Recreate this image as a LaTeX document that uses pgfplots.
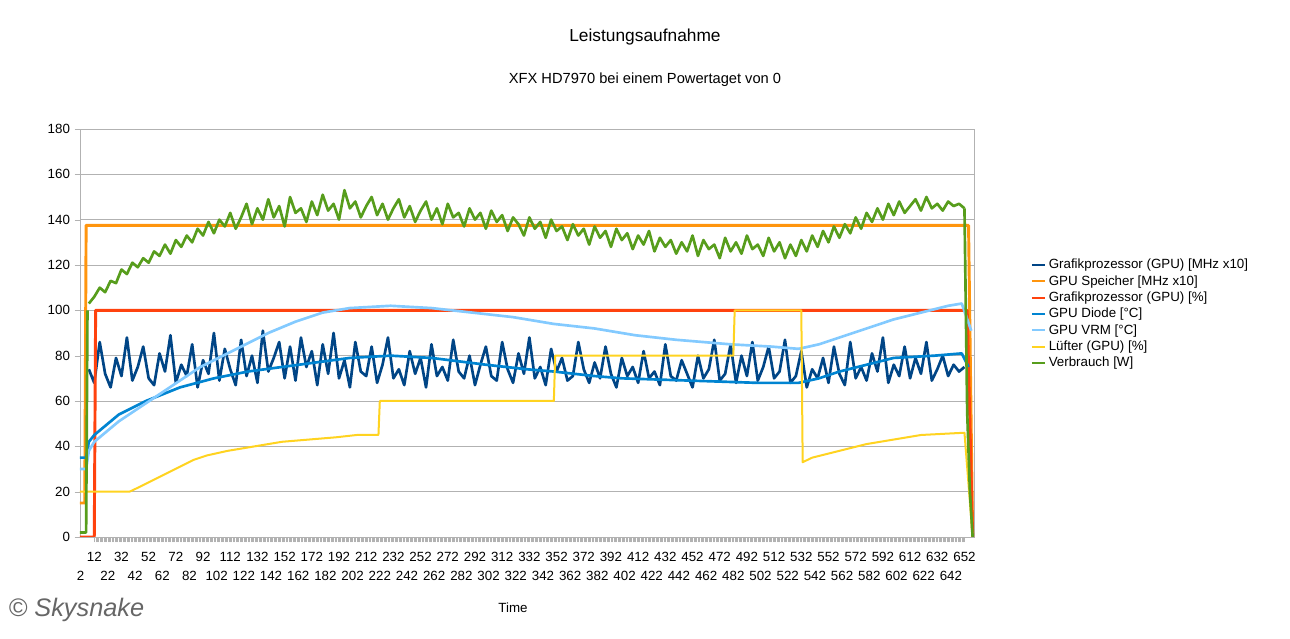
\documentclass[border=0pt]{standalone}
\usepackage{pgfplots}
\pgfplotsset{compat=1.18}
\usepackage{pgfplotstable}
\usepackage{fontspec}
\setmainfont{Liberation Sans}
\definecolor{cclk}{HTML}{004586}
\definecolor{cmem}{HTML}{FF950E}
\definecolor{cpct}{HTML}{FF420E}
\definecolor{cdio}{HTML}{0084D1}
\definecolor{cvrm}{HTML}{83CAFF}
\definecolor{cfan}{HTML}{FFD320}
\definecolor{cpow}{HTML}{579D1C}
\pgfplotstableread{
y
103
106
110
108
113
112
118
116
121
119
123
121
126
124
129
125
131
128
133
130
136
133
139
134
140
137
143
136
141
147
138
145
140
149
141
146
137
150
143
145
139
148
142
151
144
147
140
153
145
148
141
146
150
142
147
140
145
149
141
146
139
144
148
140
145
138
147
141
143
137
145
140
143
136
144
139
142
135
141
138
133
141
136
139
132
140
135
137
131
138
133
136
129
137
132
135
128
136
131
134
127
133
129
135
126
132
128
131
125
130
126
133
124
131
127
129
123
132
126
130
125
133
127
129
124
132
126
130
123
129
124
131
126
133
128
135
130
137
132
138
134
141
136
143
139
145
140
147
142
148
143
146
149
144
150
145
147
144
148
146
147
145
}\powtab
\pgfplotstableread{
y
74
68
86
72
66
79
71
88
69
75
84
70
67
81
73
89
68
76
71
85
66
78
72
90
69
83
74
67
87
71
80
68
91
73
79
86
70
84
69
88
75
82
67
85
72
90
70
78
66
86
73
71
84
68
76
88
70
74
67
82
72
79
66
85
71
75
69
87
73
70
80
67
76
84
71
69
86
74
68
81
72
88
70
75
67
83
73
79
69
71
86
74
68
77
70
84
72
66
79
71
75
68
82
70
73
67
85
71
69
78
72
66
80
70
74
87
69
72
85
68
80
71
86
69
75
84
70
73
87
68
71
82
66
74
70
79
68
84
72
67
86
70
75
69
81
73
88
68
76
71
84
70
79
72
86
69
74
80
71
76
73
75
}\clktab
\begin{document}
\begin{tikzpicture}[x=1pt,y=1pt]
\useasboundingbox (-60,-76.5) rectangle (907.5,402.75);
\begin{axis}[
  at={(0,0)}, anchor=south west,
  scale only axis, width=671pt, height=306pt,
  xmin=1.5, xmax=659.5, ymin=0, ymax=180,
  ytick={0,20,...,180},
  xtick={12,32,...,652},
  extra x ticks={2,22,...,642},
  extra x tick style={tick label style={yshift=-18pt}, major tick length=0pt},
  minor x tick num=19,
  tick align=outside,
  major tick length=4pt, minor tick length=4pt,
  x tick style={gray!60}, y tick style={gray!60},
  xtick pos=bottom, ytick pos=left,
  ymajorgrids, grid style={gray!60, line width=0.5pt},
  axis line style={gray!60},
  tick label style={font=\fontsize{10}{11}\selectfont},
  xticklabel style={yshift=-4pt},
  /pgf/number format/assume math mode=true,
  legend style={at={(712.5pt,211.5pt)}, anchor=north west, draw=none,
    font=\fontsize{10}{11.5}\selectfont, row sep=-0.5pt, inner sep=1pt,
    legend cell align=left},
  legend image code/.code={\draw[#1, line width=1.4pt] (0pt,0pt) -- (10pt,0pt);},
  line join=round,
]
\addplot[cclk, line width=2pt] table[x expr=\coordindex*4+8, y=y] {\clktab};
\addlegendentry{Grafikprozessor (GPU) [MHz x10]}
\addplot[cmem, line width=2.2pt] coordinates {(1,15)(5,15)(6,137.5)(655,137.5)(658,0)};
\addlegendentry{GPU Speicher [MHz x10]}
\addplot[cpct, line width=2.2pt] coordinates {(1,0)(12,0)(13,100)(654,100)(658,0)};
\addlegendentry{Grafikprozessor (GPU) [\%]}
\addplot[cdio, line width=2pt] coordinates {(1,35)(6,35)(8,42)(12,45)(20,49)(30,54)(50,60)(75,66)(100,70)(125,73)(150,75)(175,77)(200,79)(230,80)(260,79)(300,76)(330,74)(350,73)(380,71)(400,70)(450,69)(500,68)(530,68)(545,70)(560,73)(580,76)(600,79)(630,80)(650,81)(655,75)};
\addlegendentry{GPU Diode [°C]}
\addplot[cvrm, line width=2pt] coordinates {(1,30)(6,30)(8,38)(12,42)(20,46)(30,51)(50,59)(70,67)(90,75)(110,81)(140,90)(160,95)(180,99)(200,101)(230,102)(260,101)(290,99)(320,97)(350,94)(380,92)(410,89)(440,87)(480,85)(510,84)(530,83)(545,85)(560,88)(580,92)(600,96)(620,99)(640,102)(650,103)(657,91)};
\addlegendentry{GPU VRM [°C]}
\addplot[cfan, line width=1.5pt] coordinates {(1,20)(38,20)(45,22)(55,25)(65,28)(75,31)(85,34)(95,36)(110,38)(130,40)(150,42)(170,43)(190,44)(205,45)(221,45)(222,60)(350,60)(351,80)(482,80)(483,100)(532,100)(533,33)(540,35)(560,38)(580,41)(600,43)(620,45)(652,46)(658,0)};
\addlegendentry{Lüfter (GPU) [\%]}
\addplot[cpow, line width=2pt] coordinates {(1,2)(6,2)(7,100)};
\addplot[cpow, line width=2pt, forget plot] table[x expr=\coordindex*4+8, y=y] {\powtab};
\addplot[cpow, line width=2pt, forget plot] coordinates {(652,145)(654,55)(656,20)(658,0)};
\addlegendentry{Verbrauch [W]}
\end{axis}
\node[font=\fontsize{13}{15}\selectfont] at (423.75,375) {Leistungsaufnahme};
\node[font=\fontsize{11}{13}\selectfont] at (423.75,342.75) {XFX HD7970 bei einem Powertaget von 0};
\node[font=\fontsize{10}{12}\selectfont] at (324.75,-53.25) {Time};
\node[anchor=west, font=\fontsize{19}{21}\selectfont\itshape, text=gray!80!black] at (-57,-55) {© Skysnake};
\end{tikzpicture}
\end{document}
